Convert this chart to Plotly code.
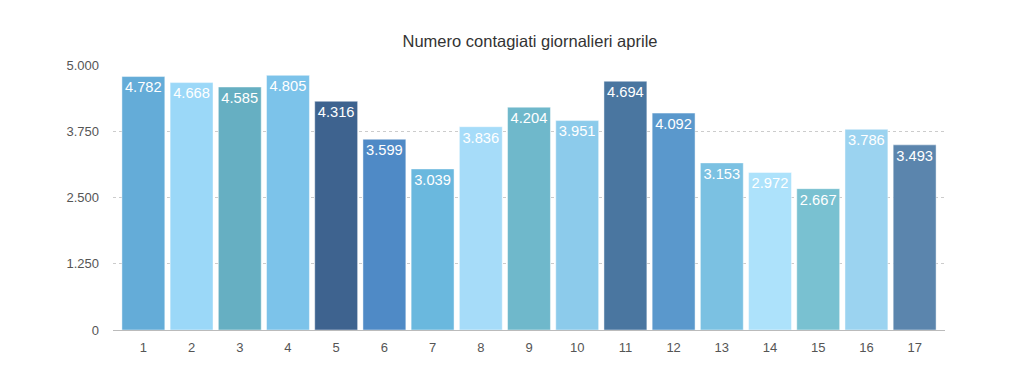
import plotly.graph_objects as go

giorni = [str(i) for i in range(1, 18)]
contagiati = [4782, 4668, 4585, 4805, 4316, 3599, 3039, 3836, 4204, 3951,
              4694, 4092, 3153, 2972, 2667, 3786, 3493]
colori = ["#64acd8", "#9bd8f8", "#66afc2", "#7cc3ea", "#3e638f", "#4f8ac6",
          "#6ab8de", "#a6dcf9", "#6fb8cb", "#8ccbeb", "#4a76a0", "#5a98cc",
          "#7bc1e2", "#ade2fb", "#79c1d1", "#9bd3f0", "#5b85ad"]
tick_vals = [0, 1250, 2500, 3750, 5000]
titolo = "Numero contagiati giornalieri aprile"

W, H = 1016, 384  # page body adds an 8px offset

fig = go.Figure(go.Bar(
    x=giorni, y=contagiati,
    marker=dict(color=colori, line=dict(color="rgba(255,255,255,0.45)", width=1)),
    texttemplate="%{y:,}",
    textposition="inside",
    insidetextanchor="end",
    textangle=0,
    textfont=dict(color="white", size=16, family="Liberation Sans"),
    hoverinfo="x+y",
))

fig.update_layout(
    width=W, height=H,
    separators=",.",
    paper_bgcolor="white", plot_bgcolor="white",
    margin=dict(l=105, r=79, t=57, b=62),
    bargap=0.11,
    showlegend=False,
    title=dict(text=titolo, x=(530 - 8) / W, xanchor="center", y=1 - 33 / H, yanchor="middle",
               font=dict(size=16.5, color="#333333", family="Liberation Sans")),
    font=dict(family="Liberation Sans", color="#555555", size=13),
)
fig.update_yaxes(range=[0, 5000], tickvals=tick_vals, tickformat=",",
                 showgrid=True, gridcolor="rgba(0,0,0,0.2)", griddash="dot", gridwidth=1,
                 zeroline=False, showline=False, ticks="", ticklen=0,
                 ticklabelstandoff=13,
                 tickfont=dict(size=13, color="#555555"))
fig.update_xaxes(range=[-0.63, 16.63], showline=True, linecolor="#bbbbbb", linewidth=1,
                 showgrid=False, ticks="", ticklabelstandoff=5,
                 tickfont=dict(size=13, color="#555555"))

fig.write_html("out.html")
